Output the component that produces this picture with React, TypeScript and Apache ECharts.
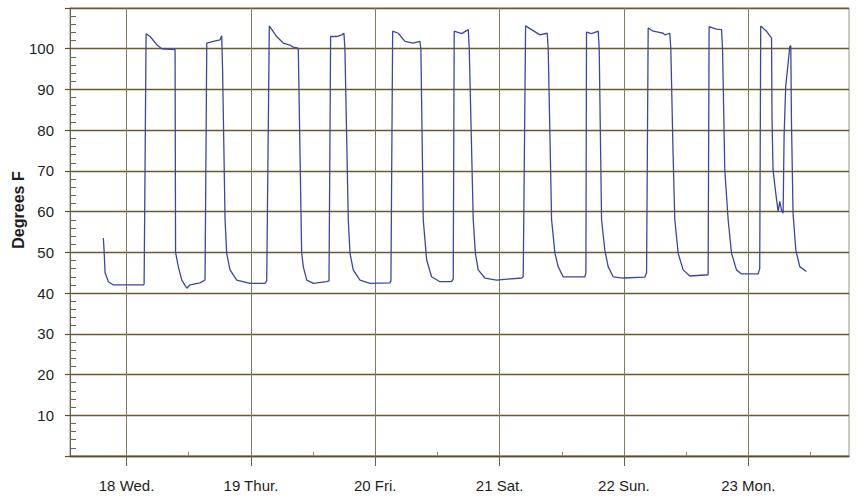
import React, { useEffect, useRef } from "react";
import * as echarts from "echarts";

const dayTicks = [18, 19, 20, 21, 22, 23];
const dayLabels = ["18 Wed.", "19 Thur.", "20 Fri.", "21 Sat.", "22 Sun.", "23 Mon."];
const halfDayTicks = [18.5, 19.5, 20.5, 21.5, 22.5, 23.5];
const yLabelValues = [10, 20, 30, 40, 50, 60, 70, 80, 90, 100];
const yMinorTicks = [2, 4, 6, 8, 12, 14, 16, 18, 22, 24, 26, 28, 32, 34, 36, 38, 42, 44, 46, 48, 52, 54, 56, 58, 62, 64, 66, 68, 72, 74, 76, 78, 82, 84, 86, 88, 92, 94, 96, 98, 102, 104, 106, 108];

// time in days (day of month + fraction)
const timeDays = [
  17.813, 17.819, 17.827, 17.854, 17.894, 18.135, 18.141, 18.157, 18.189, 18.243, 18.283, 18.39,
  18.394, 18.416, 18.444, 18.484, 18.51, 18.591, 18.631, 18.645, 18.698, 18.752, 18.765, 18.772,
  18.792, 18.805, 18.832, 18.886, 18.993, 19.113, 19.127, 19.148, 19.207, 19.26, 19.314, 19.341,
  19.373, 19.381, 19.408, 19.421, 19.449, 19.502, 19.609, 19.628, 19.641, 19.69, 19.73, 19.748,
  19.756, 19.783, 19.797, 19.823, 19.877, 19.957, 20.118, 20.126, 20.14, 20.185, 20.239, 20.305,
  20.359, 20.367, 20.386, 20.413, 20.453, 20.52, 20.614, 20.627, 20.635, 20.695, 20.748, 20.756,
  20.788, 20.805, 20.828, 20.882, 20.976, 21.177, 21.19, 21.209, 21.257, 21.324, 21.383, 21.391,
  21.404, 21.418, 21.445, 21.471, 21.511, 21.686, 21.694, 21.699, 21.74, 21.793, 21.801, 21.82,
  21.846, 21.873, 21.913, 21.994, 22.168, 22.182, 22.195, 22.235, 22.275, 22.315, 22.329, 22.369,
  22.377, 22.395, 22.409, 22.436, 22.476, 22.53, 22.677, 22.685, 22.744, 22.785, 22.793, 22.811,
  22.838, 22.865, 22.905, 22.945, 23.079, 23.092, 23.1, 23.146, 23.187, 23.191, 23.199, 23.221,
  23.24, 23.253, 23.267, 23.28, 23.288, 23.301, 23.334, 23.342, 23.347, 23.36, 23.382, 23.414,
  23.468,
];

const tempF = [
  53.5, 50.6, 45, 42.8, 42, 42, 42.2, 103.7, 103, 101, 100, 99.8,
  50, 46.5, 43.2, 41.2, 42, 42.5, 43.2, 101.4, 101.8, 102.2, 103.2, 95,
  58, 49.8, 45.7, 43.2, 42.4, 42.4, 43, 105.6, 103, 101.4, 100.9, 100.4,
  100.2, 99.8, 50, 46.5, 43.2, 42.4, 42.8, 43, 103, 103, 103.4, 103.8,
  100, 58, 49.8, 45.7, 43.2, 42.4, 42.5, 43, 104.3, 103.8, 101.8, 101.4,
  101.8, 100, 58, 48.2, 44, 42.8, 42.8, 43.5, 104.3, 103.7, 104.7, 100,
  58, 49.8, 45.7, 43.7, 43.2, 43.7, 44, 105.6, 104.7, 103.4, 103.8, 100,
  80, 58, 49.8, 46.5, 44, 44, 45, 104.1, 103.7, 104.3, 100, 58,
  50.6, 46.5, 44, 43.7, 43.9, 45, 105.1, 104.3, 104.1, 103.8, 103.4, 103.8,
  100, 74.4, 58, 49.8, 45.7, 44.2, 44.5, 105.4, 104.8, 104.7, 100, 70.3,
  58, 49.8, 45.7, 44.7, 44.7, 46, 105.6, 104.3, 102.6, 82.6, 70.3, 64.5,
  60, 62.5, 60.4, 59.6, 78.5, 90.7, 100.6, 100.7, 82.6, 59.6, 50.6, 46.5,
  45.3,
];

const FONT = "'Liberation Sans', Arial, Helvetica, sans-serif";

export default function App() {
  const ref = useRef<HTMLDivElement>(null);

  useEffect(() => {
    if (!ref.current) return;
    const chart = echarts.init(ref.current, null, { renderer: "svg" });
    const seriesData = timeDays.map((t, i) => [t, tempF[i]]);
    const xMin = 17.545;
    const xMax = 23.81;

    chart.setOption({
      animation: false,
      backgroundColor: "#ffffff",
      grid: {
        left: 70,
        right: 8,
        top: 8,
        bottom: 41,
        containLabel: false,
        outerBoundsMode: "none",
        show: true,
        borderColor: "#9a9080",
        borderWidth: 1,
        backgroundColor: "transparent",
      },
      xAxis: [
        {
          type: "value",
          min: xMin,
          max: xMax,
          position: "bottom",
          axisLine: { show: true, onZero: false, lineStyle: { color: "#5e4e2c", width: 1.4 } },
          axisTick: { show: true, customValues: dayTicks, length: 10, lineStyle: { color: "#6a6050", width: 1 } },
          axisLabel: {
            customValues: dayTicks,
            formatter: (v: number) => dayLabels[dayTicks.indexOf(Math.round(v))] ?? "",
            margin: 22,
            fontSize: 15,
            color: "#1e1e1e",
            fontFamily: FONT,
          },
          splitLine: { show: true, lineStyle: { color: "#857a68", width: 1 } },
        },
        {
          type: "value",
          min: xMin,
          max: xMax,
          position: "bottom",
          axisLine: { show: false, onZero: false },
          axisTick: { show: true, inside: true, customValues: halfDayTicks, length: 4, lineStyle: { color: "#8a8070", width: 1 } },
          axisLabel: { show: false },
          splitLine: { show: false },
        },
      ],
      yAxis: [
        {
          type: "value",
          min: 0,
          max: 110,
          interval: 10,
          position: "left",
          axisLine: { show: true, onZero: false, lineStyle: { color: "#6a6458", width: 1 } },
          axisTick: { show: true, length: 5, lineStyle: { color: "#5e4e2c", width: 1.2 } },
          axisLabel: {
            customValues: yLabelValues,
            margin: 16,
            fontSize: 15,
            color: "#1e1e1e",
            fontFamily: FONT,
          },
          splitLine: { show: true, lineStyle: { color: "#6b5a2e", width: 1.4 } },
        },
        {
          type: "value",
          min: 0,
          max: 110,
          position: "left",
          axisLine: { show: false, onZero: false },
          axisTick: { show: true, inside: true, customValues: yMinorTicks, length: 6, lineStyle: { color: "#6a6458", width: 1 } },
          axisLabel: { show: false },
          splitLine: { show: false },
        },
      ],
      graphic: [
        {
          type: "text",
          x: 18,
          y: 210,
          rotation: Math.PI / 2,
          style: {
            text: "Degrees F",
            fontSize: 16,
            fontWeight: "bold",
            fontFamily: FONT,
            fill: "#1e1e1e",
            align: "center",
            verticalAlign: "middle",
          },
        },
      ],
      series: [
        {
          type: "line",
          xAxisIndex: 0,
          yAxisIndex: 0,
          data: seriesData,
          showSymbol: false,
          symbol: "none",
          lineStyle: { color: "#3b48a0", width: 1.3 },
          z: 5,
        },
      ],
    });

    return () => chart.dispose();
  }, []);

  return (
    <div
      ref={ref}
      style={{ position: "fixed", left: 0, top: 0, width: 857, height: 497, background: "#fff" }}
    />
  );
}
